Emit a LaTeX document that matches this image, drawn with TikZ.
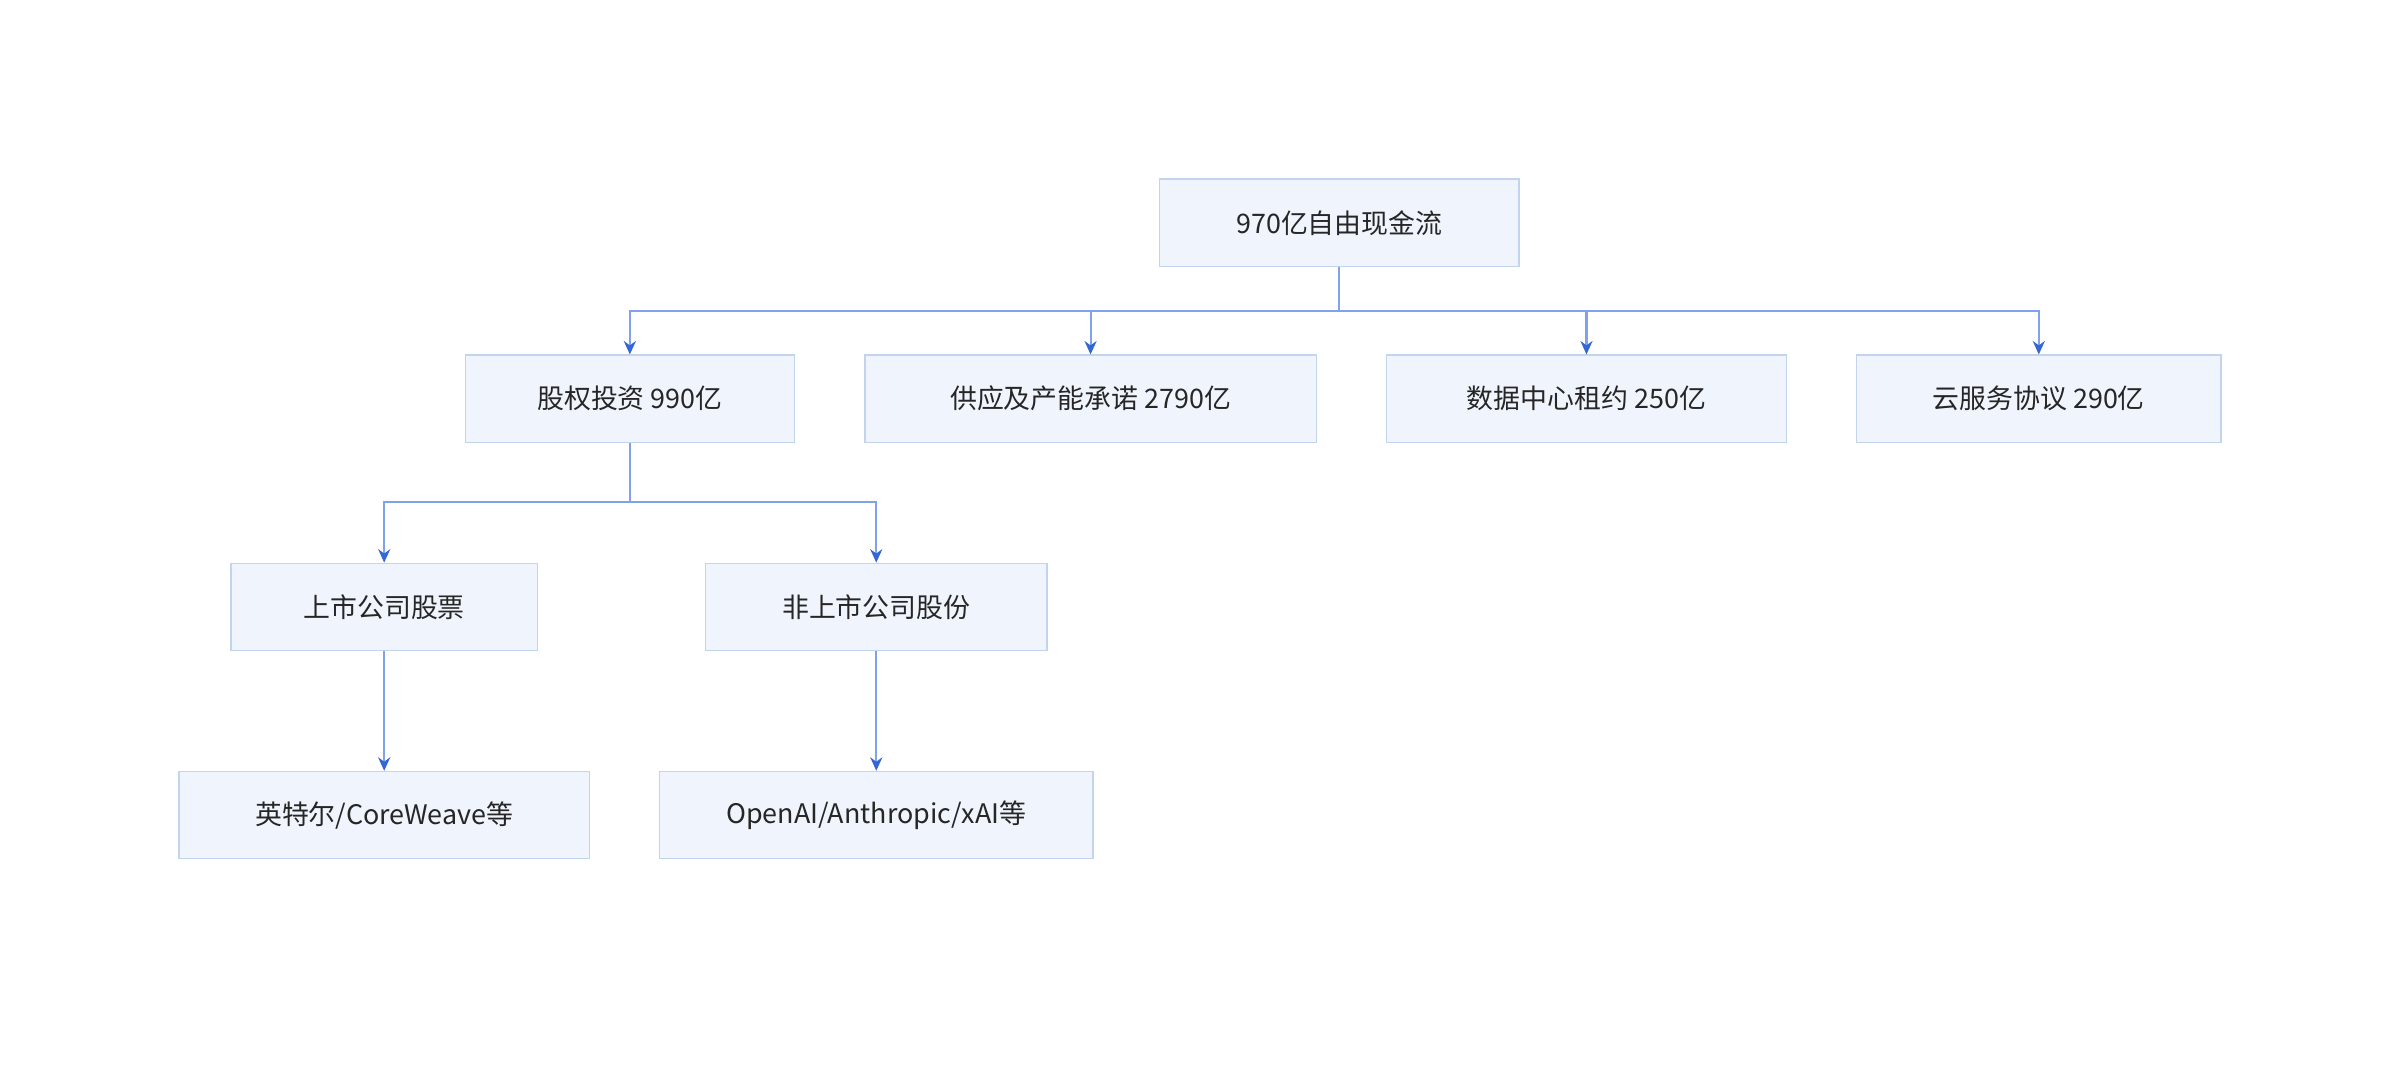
\documentclass[tikz,border=0pt]{standalone}
\usepackage{fontspec}
\setmainfont{Noto Sans CJK SC}
\usetikzlibrary{arrows.meta, positioning}
\definecolor{boxfill}{HTML}{F0F5FD}
\definecolor{boxline}{HTML}{C3D4EF}
\definecolor{linkline}{HTML}{7FA2EA}
\definecolor{linktip}{HTML}{3566D6}
\tikzset{
  item/.style={rectangle, draw=boxline, fill=boxfill, line width=0.5pt, minimum height=1.14cm, font=\fontsize{10}{12}\selectfont, text=black!85, inner sep=0pt},
  link/.style={draw=linkline, line width=0.8pt, -{Stealth[length=5pt,width=4.5pt,color=linktip]}},
  trunk/.style={draw=linkline, line width=0.8pt}
}
\begin{document}
\begin{tikzpicture}[x=0.02cm, y=-0.02cm]
\useasboundingbox (0,0) rectangle (1568,700.4);
% top level
\node (fcf) [item, minimum width=4.7cm] at (875,145.5) {970亿自由现金流};

\node (equity) [item, minimum width=4.3cm] at (411.5,260.5) {股权投资 990亿};
\node (supply) [item, minimum width=5.9cm] at (712.5,260.5) {供应及产能承诺 2790亿};
\node (dc) [item, minimum width=5.22cm] at (1036.5,260.5) {数据中心租约 250亿};
\node (cloud) [item, minimum width=4.76cm] at (1332,260.5) {云服务协议 290亿};

\node (listed) [item, minimum width=4cm] at (251,396.5) {上市公司股票};
\node (private) [item, minimum width=4.46cm] at (572.5,396.5) {非上市公司股份};

\node (intel) [item, minimum width=5.36cm] at (251,532.5) {英特尔/CoreWeave等};
\node (openai) [item, minimum width=5.66cm] at (572.5,532.5) {OpenAI/Anthropic/xAI等};

% branch points
\coordinate (split1) at (875,203);
\coordinate (split2) at (411.5,328);

\draw [trunk] (fcf) -- (split1);
\draw [link] (split1) -| (equity);
\draw [link] (split1) -| (supply);
\draw [link] (split1) -| (dc);
\draw [link] (split1) -| (cloud);

\draw [trunk] (equity) -- (split2);
\draw [link] (split2) -| (listed);
\draw [link] (split2) -| (private);

\draw [link] (listed) -- (intel);
\draw [link] (private) -- (openai);
\end{tikzpicture}
\end{document}
